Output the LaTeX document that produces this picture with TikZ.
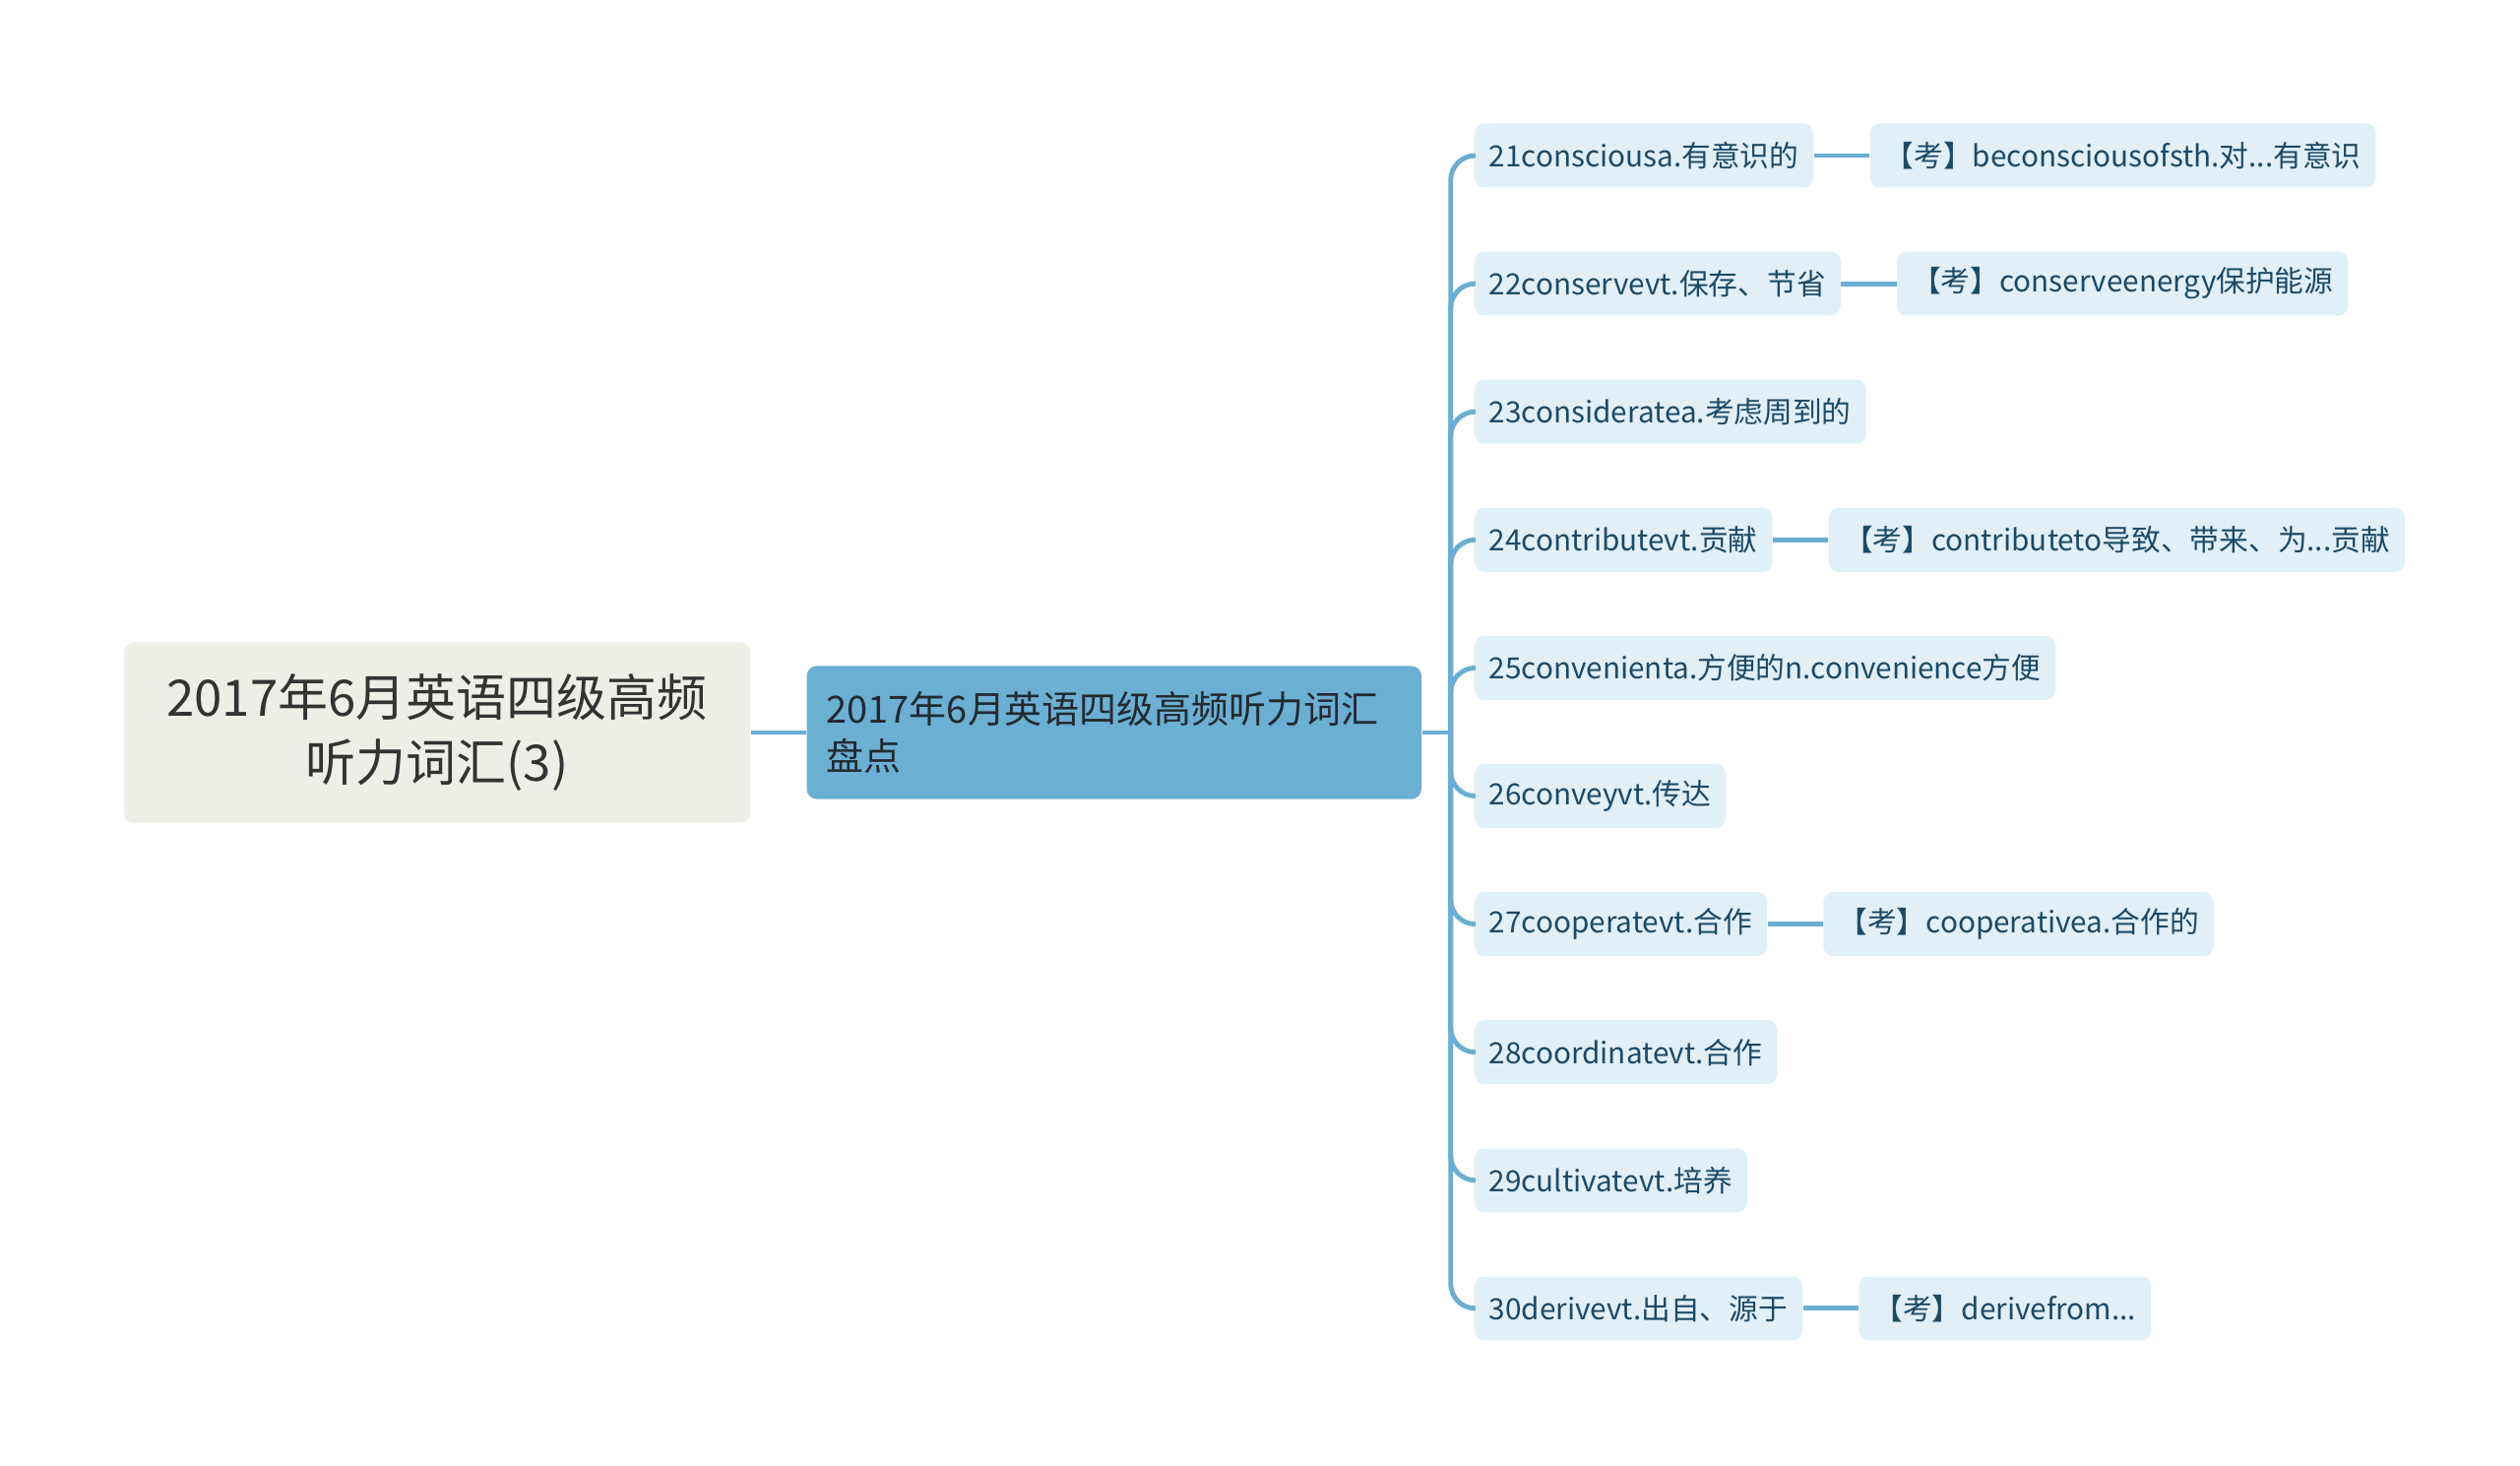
\documentclass[tikz,border=0pt]{standalone}
\usepackage{fontspec}
\setmainfont{Noto Sans CJK SC}
\usetikzlibrary{positioning}
\definecolor{rootfill}{HTML}{EFEEE6}
\definecolor{roottext}{HTML}{333333}
\definecolor{subfill}{HTML}{6BAFD2}
\definecolor{subtext}{HTML}{222A30}
\definecolor{leaffill}{HTML}{E1EFF7}
\definecolor{leaftext}{HTML}{1C4A66}
\definecolor{linkblue}{HTML}{6AAED2}
\begin{document}
\begin{tikzpicture}[%
    x=0.01cm,y=-0.01cm,%
    rootbox/.style={fill=rootfill,text=roottext,rounded corners=0.1cm,%
        minimum width=6.36cm,minimum height=1.83cm,align=center,%
        font=\fontsize{14.5}{19}\selectfont},%
    subbox/.style={fill=subfill,text=subtext,rounded corners=0.1cm,%
        text width=5.84cm,inner xsep=0.2cm,minimum height=1.35cm,align=left,%
        font=\fontsize{10.8}{13.9}\selectfont},%
    leafbox/.style={fill=leaffill,text=leaftext,rounded corners=0.1cm,%
        inner xsep=0.15cm,minimum height=0.65cm,%
        font=\fontsize{8.45}{10}\selectfont},%
    link/.style={draw=linkblue,line width=1.4pt},%
]%
    \useasboundingbox (0,0) rectangle (2560,1489);

    % root and main topic
    \node[rootbox] (root) at (444,744) {2017年6月英语四级高频\\听力词汇(3)};
    \node[subbox,right=0.56cm of root] (sub) {2017年6月英语四级高频听力词汇\\盘点};
    \draw[link] (root) -- (sub);
    \coordinate[right=0.29cm of sub.east] (trunk);
    \draw[link] (sub.east) -- (trunk);

    % words
    \foreach \k/\txt [count=\i from 0] in {%
        21/{21consciousa.有意识的},
        22/{22conservevt.保存、节省},
        23/{23consideratea.考虑周到的},
        24/{24contributevt.贡献},
        25/{25convenienta.方便的n.convenience方便},
        26/{26conveyvt.传达},
        27/{27cooperatevt.合作},
        28/{28coordinatevt.合作},
        29/{29cultivatevt.培养},
        30/{30derivevt.出自、源于}}{%
        \node[leafbox,anchor=west] (w\k) at (1497,{158+130.1*\i}) {\txt};
        \draw[link,rounded corners=0.25cm] (trunk) |- (w\k.west);
    }

    % exam notes
    \node[leafbox,right=0.56cm of w21] (k21) {【考】beconsciousofsth.对...有意识};
    \node[leafbox,right=0.56cm of w22] (k22) {【考】conserveenergy保护能源};
    \node[leafbox,right=0.56cm of w24] (k24) {【考】contributeto导致、带来、为...贡献};
    \node[leafbox,right=0.56cm of w27] (k27) {【考】cooperativea.合作的};
    \node[leafbox,right=0.56cm of w30] (k30) {【考】derivefrom...};
    \foreach \k in {21,22,24,27,30}
        \draw[link] (w\k) -- (k\k);
\end{tikzpicture}
\end{document}
